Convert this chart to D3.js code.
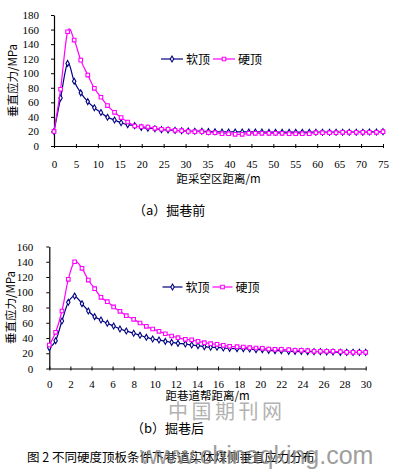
<!DOCTYPE html>
<html>
<head>
<meta charset="utf-8">
<script src="https://cdn.jsdelivr.net/npm/d3@7"></script>
<style>
  html, body { margin: 0; padding: 0; background: #fff; }
  svg { display: block; }
</style>
</head>
<body>
<div id="chart"></div>
<script>
// (a) 掘巷前 —— 距采空区距离 / m
const distA = [0, 1.5, 3.1, 4.6, 6.1, 7.7, 9.2, 10.7, 12.2, 13.8, 15.3, 16.8, 18.4, 19.9, 21.4, 23, 24.5, 26, 27.6, 29.1,
  30.6, 32.1, 33.7, 35.2, 36.7, 38.3, 39.8, 41.3, 42.9, 44.4, 45.9, 47.4, 49, 50.5, 52, 53.6, 55.1, 56.6, 58.2, 59.7,
  61.2, 62.8, 64.3, 65.8, 67.3, 68.9, 70.4, 71.9, 73.5, 75];
const softA = [20, 66, 113.5, 89, 73, 61, 52.5, 46, 39.5, 35.7, 32, 29.3, 28, 25.5, 24.3, 23.8, 22.5, 22, 21.5, 21,
  20.5, 20.3, 20.3, 19.8, 19.5, 19.3, 19.3, 19.3, 19.3, 19.3, 19.3, 19.3, 19, 19, 19, 19, 19, 19, 19, 19,
  19, 19, 19, 19, 19, 19, 19, 19.3, 19.3, 19.7];
const hardA = [20, 78, 157, 145.5, 118, 97.5, 79.3, 67, 55.5, 46.3, 39, 33, 27.5, 26.6, 26, 24.3, 23, 23, 21.5, 21,
  20, 19.7, 19.7, 18.3, 18.3, 16.9, 16.9, 16, 16, 17.4, 17.4, 17.4, 17.4, 17.4, 17.4, 16.9, 16.9, 16.9, 16.9, 18.3,
  18.3, 18.3, 18.3, 18.8, 18.8, 18.8, 18.8, 18.8, 18.8, 19.7];
const xTicksA = [0, 5, 10, 15, 20, 25, 30, 35, 40, 45, 50, 55, 60, 65, 70, 75];
const yTicksA = [0, 20, 40, 60, 80, 100, 120, 140, 160, 180];

// (b) 掘巷后 —— 距巷道帮距离 / m
const distB = [0, 0.6, 1.2, 1.8, 2.4, 3.1, 3.7, 4.3, 4.9, 5.5, 6.1, 6.7, 7.3, 8, 8.6, 9.2, 9.8, 10.4, 11, 11.6,
  12.2, 12.9, 13.5, 14.1, 14.7, 15.3, 15.9, 16.5, 17.1, 17.8, 18.4, 19, 19.6, 20.2, 20.8, 21.4, 22, 22.7, 23.3, 23.9,
  24.5, 25.1, 25.7, 26.3, 26.9, 27.6, 28.2, 28.8, 29.4, 30];
const softB = [27.3, 36.5, 62.3, 86.8, 95, 85, 75.4, 68, 63.6, 59.3, 55.7, 51.8, 49.2, 46.2, 43.5, 40.9, 38.7, 37.4, 35.6, 34.3,
  33, 32.1, 30.8, 29.9, 28.6, 27.8, 27.8, 26.9, 26.4, 26, 26, 25.6, 24.7, 24.7, 23.8, 23.4, 23.4, 22.5, 22.5, 22.5,
  22.1, 22.1, 22.1, 21.6, 21.6, 21.2, 21.2, 21.2, 21.2, 21.2];
const hardB = [30.8, 47.5, 75.4, 117, 140, 131.4, 116, 104.7, 93.4, 87.6, 80.7, 75, 69.3, 64.5, 59.7, 55.3, 51.8, 48.8, 45.6, 42.6,
  40.4, 38.3, 37.6, 35.7, 33.9, 32.6, 31.7, 30.4, 29.1, 28.6, 28.2, 27.3, 26.9, 26.4, 25.6, 25.1, 25.1, 24.7, 23.8, 23.8,
  23.4, 22.5, 22.5, 22.5, 22.5, 22.1, 21.2, 21.2, 21.2, 21.2];
const xTicksB = [0, 2, 4, 6, 8, 10, 12, 14, 16, 18, 20, 22, 24, 26, 28, 30];
const yTicksB = [0, 20, 40, 60, 80, 100, 120, 140, 160];

const seriesNames = ["软顶", "硬顶"];

const W = 393, H = 471;
const NAVY = "#000080", MAGENTA = "#ff00ff";
const numFont = "'Liberation Serif', 'DejaVu Serif', serif";
const cjkFont = "'Noto Sans CJK SC', 'Noto Sans', sans-serif";

const svg = d3.select("#chart").append("svg")
  .attr("width", W)
  .attr("height", H);

const diamond = d3.symbol().type(d3.symbolDiamond).size(10);
const square = d3.symbol().type(d3.symbolSquare).size(13);

function drawMarker(g, kind, x, y) {
  if (kind === 0) {
    g.append("path").attr("d", diamond())
      .attr("transform", `translate(${x},${y})`)
      .attr("fill", "#fff").attr("stroke", NAVY).attr("stroke-width", 1.1);
  } else {
    g.append("path").attr("d", square())
      .attr("transform", `translate(${x},${y})`)
      .attr("fill", "#fff").attr("stroke", MAGENTA).attr("stroke-width", 1.1);
  }
}

function drawPanel(p) {
  const x = d3.scaleLinear().domain(p.xDomain).range(p.xRange);
  const y = d3.scaleLinear().domain(p.yDomain).range(p.yRange);
  const g = svg.append("g");

  // ejes
  const yAxis = g.append("g")
    .attr("transform", `translate(${p.xRange[0]},0)`)
    .call(d3.axisLeft(y).tickValues(p.yTicks).tickSize(3).tickSizeOuter(0).tickPadding(p.yPad));
  const xAxis = g.append("g")
    .attr("transform", `translate(0,${p.yRange[0]})`)
    .call(d3.axisBottom(x).tickValues(p.xTicks).tickSize(3).tickSizeOuter(0).tickPadding(p.xPad));
  xAxis.selectAll(".tick line").attr("y1", -2).attr("y2", 2);

  [xAxis, yAxis].forEach(a => {
    a.select(".domain").attr("stroke", "#000").attr("stroke-width", 1.2);
    a.selectAll(".tick line").attr("stroke", "#000").attr("stroke-width", 1);
    a.selectAll("text").attr("fill", "#000")
      .style("font-family", numFont).style("font-size", "11px");
  });

  // series
  const line = d3.line()
    .x(d => x(d[0]))
    .y(d => y(d[1]))
    .curve(d3.curveCardinal.tension(0));

  [p.soft, p.hard].forEach((vals, k) => {
    const pts = p.dist.map((d, i) => [d, vals[i]]);
    g.append("path")
      .datum(pts)
      .attr("fill", "none")
      .attr("stroke", k === 0 ? NAVY : MAGENTA)
      .attr("stroke-width", 1.2)
      .attr("d", line);
    const mg = g.append("g");
    pts.forEach(d => drawMarker(mg, k, x(d[0]), y(d[1])));
  });

  // leyenda
  p.legend.forEach((L, k) => {
    g.append("line")
      .attr("x1", L.x).attr("x2", L.x + L.len)
      .attr("y1", p.legendY).attr("y2", p.legendY)
      .attr("stroke", k === 0 ? NAVY : MAGENTA).attr("stroke-width", 1.2);
    drawMarker(g, k, L.x + L.len / 2, p.legendY);
    g.append("text")
      .attr("x", L.x + L.len + 3).attr("y", p.legendY + 4.5)
      .style("font-family", cjkFont).style("font-size", "12px")
      .attr("fill", "#000")
      .text(seriesNames[k]);
  });

  // títulos de ejes
  g.append("text")
    .attr("x", (p.xRange[0] + p.xRange[1]) / 2).attr("y", p.xTitleY)
    .attr("text-anchor", "middle")
    .style("font-family", cjkFont).style("font-size", "11.5px")
    .text(p.xTitle);
  g.append("text")
    .attr("transform", `translate(${p.yTitleX},${(p.yRange[0] + p.yRange[1]) / 2}) rotate(-90)`)
    .attr("text-anchor", "middle")
    .style("font-family", cjkFont).style("font-size", "11.5px")
    .text("垂直应力/MPa");

  // subtítulo
  svg.append("text")
    .attr("x", p.capX).attr("y", p.capY)
    .style("font-family", cjkFont).style("font-size", "13px")
    .text(p.caption);
}

drawPanel({
  dist: distA, soft: softA, hard: hardA,
  xDomain: [0, 75], xRange: [54, 383],
  yDomain: [0, 180], yRange: [146, 15],
  xTicks: xTicksA, yTicks: yTicksA, yPad: 12, xPad: 11,
  legendY: 59,
  legend: [{ x: 161, len: 22 }, { x: 213, len: 22 }],
  xTitle: "距采空区距离/m", xTitleY: 183, yTitleX: 17,
  caption: "（a）掘巷前", capX: 133, capY: 215
});

drawPanel({
  dist: distB, soft: softB, hard: hardB,
  xDomain: [0, 30], xRange: [49.3, 365.7],
  yDomain: [0, 160], yRange: [368.5, 246.5],
  xTicks: xTicksB, yTicks: yTicksB, yPad: 13, xPad: 9,
  legendY: 287,
  legend: [{ x: 162.5, len: 20 }, { x: 212.5, len: 20 }],
  xTitle: "距巷道帮距离/m", xTitleY: 400, yTitleX: 15,
  caption: "（b）掘巷后", capX: 131, capY: 433
});

// pie de figura
svg.append("text")
  .attr("x", 27).attr("y", 462)
  .style("font-family", cjkFont).style("font-size", "12.5px")
  .text("图 2 不同硬度顶板条件下巷道实体煤侧垂直应力分布");

// marcas de agua
svg.append("text")
  .attr("x", 168).attr("y", 419)
  .style("font-family", cjkFont).style("font-size", "20px")
  .style("letter-spacing", "3.5px")
  .attr("fill", "#a0a0a0").attr("opacity", 0.8)
  .text("中国期刊网");
svg.append("text")
  .attr("x", 140).attr("y", 464)
  .style("font-family", "'Liberation Sans', Arial, sans-serif").style("font-size", "25px")
  .attr("fill", "#808080").attr("opacity", 0.75)
  .text("www.chinaqking.com");
</script>
</body>
</html>
